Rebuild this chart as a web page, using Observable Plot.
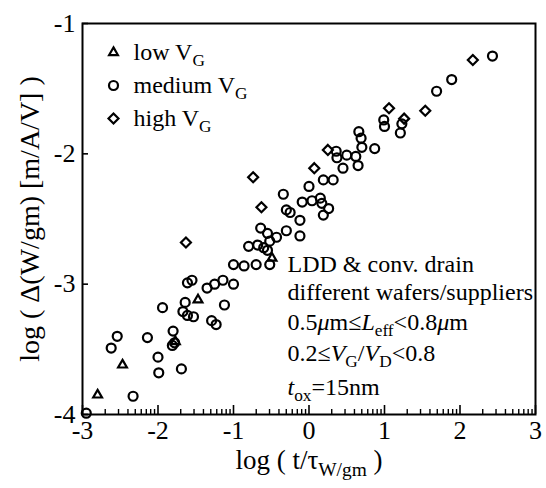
<!DOCTYPE html>
<html><head><meta charset="utf-8">
<script src="https://cdn.jsdelivr.net/npm/d3@7"></script>
<script src="https://cdn.jsdelivr.net/npm/@observablehq/plot@0.6"></script>
<style>body{margin:0;background:#fff}</style>
</head><body><div id="chart"></div>
<script>
// ---- data ----
const lowVG = [[-2.80,-3.85],[-2.47,-3.62],[-1.77,-3.44],[-1.47,-3.12],[-0.49,-2.80]];
const mediumVG = [[2.43,-1.25],[1.89,-1.43],[1.69,-1.52],[0.99,-1.74],[1.00,-1.79],[1.23,-1.77],[1.21,-1.84],
  [0.66,-1.83],[0.69,-1.88],[0.70,-1.95],[0.87,-1.96],[0.36,-1.98],[0.37,-2.03],[0.50,-2.01],[0.62,-2.02],
  [0.65,-2.09],[0.45,-2.11],[0.19,-2.20],[0.32,-2.20],[0.00,-2.25],[-0.34,-2.31],[-0.09,-2.37],[0.04,-2.36],
  [0.15,-2.34],[0.17,-2.38],[0.26,-2.42],[0.19,-2.47],[-0.30,-2.43],[-0.25,-2.45],[-0.12,-2.51],[-0.64,-2.57],
  [-0.30,-2.59],[-0.12,-2.63],[-0.55,-2.61],[-0.43,-2.64],[-0.52,-2.67],[-0.80,-2.71],[-0.68,-2.70],[-0.60,-2.72],
  [-0.55,-2.74],[-1.00,-2.85],[-0.86,-2.86],[-0.70,-2.85],[-0.52,-2.85],[-1.61,-2.99],[-1.55,-2.97],[-1.35,-3.03],
  [-1.25,-3.00],[-1.14,-2.97],[-1.00,-3.00],[-1.94,-3.18],[-1.12,-3.16],[-1.64,-3.14],[-1.67,-3.21],[-1.61,-3.24],
  [-1.53,-3.25],[-1.29,-3.28],[-1.23,-3.31],[-1.80,-3.36],[-1.81,-3.47],[-1.78,-3.45],[-2.14,-3.41],[-2.54,-3.40],
  [-2.62,-3.49],[-2.00,-3.56],[-1.99,-3.68],[-1.69,-3.65],[-2.33,-3.86],[-2.95,-3.99]];
const highVG = [[2.17,-1.28],[1.54,-1.67],[1.06,-1.65],[1.26,-1.73],[0.25,-1.97],[0.07,-2.11],[-0.74,-2.18],[-0.63,-2.41],[-1.63,-2.68]];

const xMajorTicks = [-3,-2,-1,0,1,2,3];
const yMajorTicks = [-4,-3,-2,-1];
const xMinorTicks = xMajorTicks.slice(0,-1).flatMap(d => [2,3,4,5,6,7,8,9].map(k => d + Math.log10(k)));

const legendItems = [
  {symbol: "triangle2", label: "low V_{G}"},
  {symbol: "circle", label: "medium V_{G}"},
  {symbol: "diamond2", label: "high V_{G}"}
];
const notes = ["LDD & conv. drain", "different wafers/suppliers", "0.5*μ*m≤*L*_{eff}<0.8*μ*m", "0.2≤*V*_{G}/*V*_{D}<0.8", "*t*_{ox}=15nm"];
const noteBaselines = [249, 277, 307, 338, 372];
const xTitle = "log ( t/τ_{W/gm} )";
const yTitle = "log ( Δ(W/gm) [m/A/V] )";

// ---- chart ----
const W = 546, H = 488, ML = 82, MR = 11, MT = 23, MB = 74;
const frameW = W - ML - MR, frameH = H - MT - MB;
const FONT = "'Liberation Serif', 'Times New Roman', serif";
const dotStyle = {x: d => d[0], y: d => d[1], stroke: "black", strokeWidth: 2.2, fill: "none"};
const fmt = d => String(d);

const svg = Plot.plot({
  width: W, height: H,
  marginLeft: ML, marginRight: MR, marginTop: MT, marginBottom: MB,
  style: {fontFamily: FONT, fontSize: "24px", background: "white", color: "black"},
  x: {domain: [-3, 3]},
  y: {domain: [-4, -1]},
  marks: [
    Plot.axisX(xMajorTicks, {tickSize: 0, tickPadding: 6, tickFormat: fmt, label: null, fontSize: 26}),
    Plot.axisY(yMajorTicks, {tickSize: 0, tickPadding: 7, tickFormat: fmt, label: null, fontSize: 26}),
    // inward tick marks
    Plot.tickX(xMajorTicks, {x: d => d, insetTop: frameH - 9, stroke: "black", strokeWidth: 1.6}),
    Plot.tickX(xMinorTicks, {x: d => d, insetTop: frameH - 5, stroke: "black", strokeWidth: 1.4}),
    Plot.tickY(yMajorTicks, {y: d => d, insetRight: frameW - 6, stroke: "black", strokeWidth: 1.6}),
    Plot.frame({stroke: "black", strokeWidth: 2}),
    Plot.dot(mediumVG, {...dotStyle, symbol: "circle", r: 4.5}),
    Plot.dot(highVG, {...dotStyle, symbol: "diamond2", r: 4.5}),
    Plot.dot(lowVG, {...dotStyle, symbol: "triangle2", r: 4.2}),
    ...legendItems.map((d, i) => Plot.dot([d], {frameAnchor: "top-left", dx: 31, dy: 29 + i * 33, symbol: d.symbol, r: d.symbol === "triangle2" ? 4.2 : 4.5, stroke: "black", strokeWidth: 2.2, fill: "none"})),
    ...legendItems.map((d, i) => Plot.text([d.label], {frameAnchor: "top-left", dx: 51, dy: 29 + i * 33, text: t => t, textAnchor: "start", lineAnchor: "middle", fontSize: 24})),
    ...notes.map((s, i) => Plot.text([s], {frameAnchor: "top-left", dx: 205, dy: noteBaselines[i] - 7.7, text: t => t, textAnchor: "start", lineAnchor: "middle", fontSize: 24})),
    Plot.text([xTitle], {frameAnchor: "bottom", dy: 46, text: t => t, textAnchor: "middle", lineAnchor: "middle", fontSize: 27}),
    Plot.text([yTitle], {frameAnchor: "left", dx: -52, rotate: -90, text: t => t, textAnchor: "middle", lineAnchor: "middle", fontSize: 28})
  ]
});
document.getElementById("chart").appendChild(svg);

// rich text: *italic* and _{subscript}
function richify(root) {
  root.querySelectorAll("text, tspan").forEach(el => {
    if (el.children.length) return;
    const s = el.textContent;
    if (!/_\{|\*/.test(s)) return;
    const fs = parseFloat(getComputedStyle(el).fontSize) || 24;
    el.textContent = "";
    const parts = s.split(/(_\{[^}]*\}|\*[^*]*\*)/).filter(p => p);
    let shift = 0;
    for (const p of parts) {
      const t = document.createElementNS("http://www.w3.org/2000/svg", "tspan");
      let txt = p, sub = false, ital = false;
      if (p.startsWith("_{")) { txt = p.slice(2, -1); sub = true; }
      else if (p.length > 1 && p.startsWith("*") && p.endsWith("*")) { txt = p.slice(1, -1); ital = true; }
      const target = sub ? fs * 0.25 : 0;
      if (target !== shift) { t.setAttribute("dy", target - shift); shift = target; }
      if (sub) t.setAttribute("font-size", fs * 0.72);
      if (ital) t.setAttribute("font-style", "italic");
      t.textContent = txt;
      el.appendChild(t);
    }
  });
}
richify(svg);
</script>
</body></html>
